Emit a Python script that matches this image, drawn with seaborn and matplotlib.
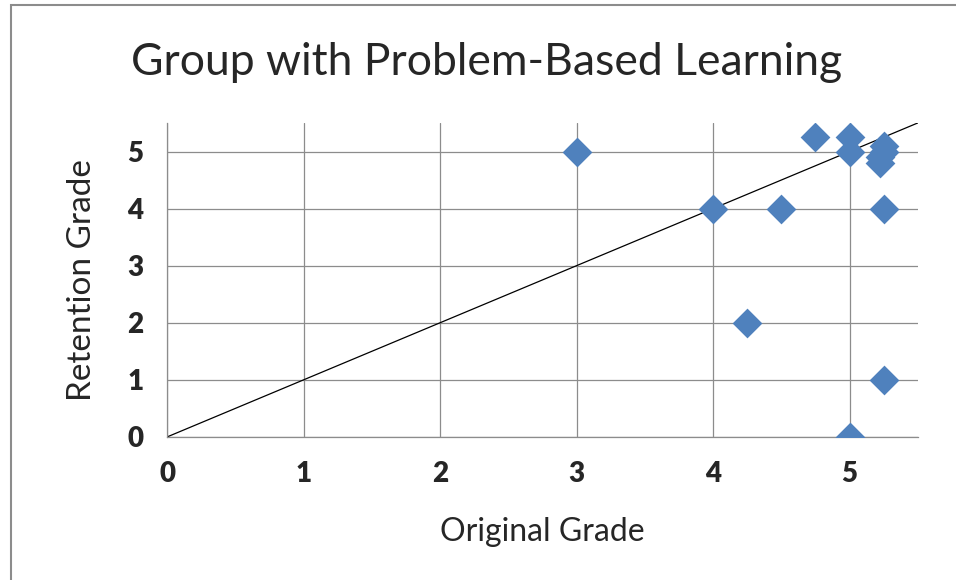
import matplotlib
matplotlib.use("Agg")
import matplotlib.pyplot as plt
import seaborn as sns
import pandas as pd
from matplotlib.patches import Rectangle

# valores
original_grade = [3, 4, 4.5, 4.25, 4.75, 5, 5, 5, 5.25, 5.25, 5.25, 5.25, 5.22, 5.22]
retention_grade = [5, 4, 4, 2, 5.25, 5.25, 5, 0, 4, 1, 5.1, 5.0, 4.9, 4.8]
diagonal = [0, 5.5]
ticks = [0, 1, 2, 3, 4, 5]

df = pd.DataFrame({"Original Grade": original_grade, "Retention Grade": retention_grade})

sns.set_theme(style="white")
plt.rcParams['font.family'] = ['Lato', 'DejaVu Sans']

fig = plt.figure(figsize=(9.56, 5.8), dpi=100)
ax = fig.add_axes([0.1747, 0.2466, 0.7853, 0.5414])

# borde exterior del grafico
fig.patches.append(Rectangle((0.011, -0.01), 1.2, 1.001, transform=fig.transFigure,
                             fill=False, edgecolor='#8c8c8c', linewidth=1.5))

ax.plot(diagonal, diagonal, color='black', linewidth=0.9, zorder=2)
sns.scatterplot(data=df, x="Original Grade", y="Retention Grade", marker='D', s=230,
                color='#4F81BD', edgecolor='#4F81BD', linewidth=0, ax=ax, zorder=3)

ax.set_xlim(0, 5.5)
ax.set_ylim(0, 5.5)
ax.set_xticks(ticks)
ax.set_yticks(ticks)
ax.grid(True, color='#8c8c8c', linewidth=0.9)
ax.set_axisbelow(True)
for s in ['top', 'right']:
    ax.spines[s].set_visible(False)
for s in ['left', 'bottom']:
    ax.spines[s].set_color('#8c8c8c')
    ax.spines[s].set_linewidth(0.9)
ax.tick_params(axis='both', length=8, width=0.9, color='#8c8c8c', direction='out',
               labelsize=20, pad=9)
for lbl in ax.get_xticklabels() + ax.get_yticklabels():
    lbl.set_fontweight('heavy')

ax.set_xlabel("Original Grade", fontsize=23, labelpad=22)
ax.set_ylabel("Retention Grade", fontsize=24, labelpad=22)
fig.text(0.509, 0.893, "Group with Problem-Based Learning", fontsize=32,
         ha='center', va='center')

fig.savefig("out.png", dpi=100)
